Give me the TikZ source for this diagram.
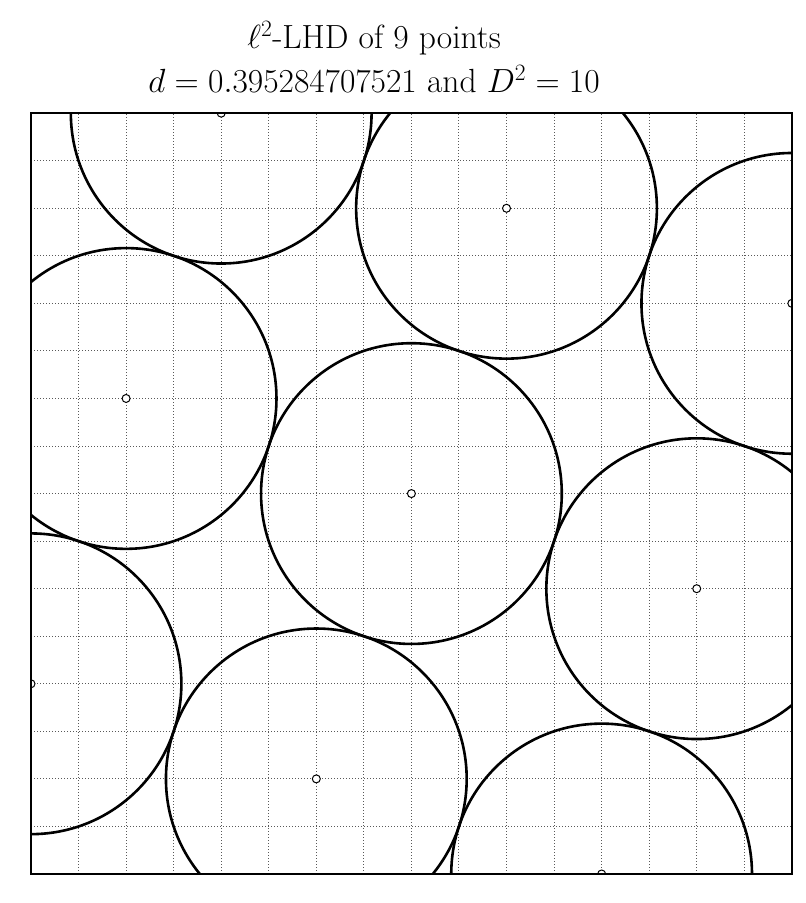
\RequirePackage{fix-cm}
\documentclass[tikz,border=0pt]{standalone}
\usepackage{tikz}
\tikzset{
  lhdgrid/.style={line width=1pt, draw=black!65, dash pattern=on 1.2pt off 1.8pt},
  lhdframe/.style={line width=2.6pt, draw=black},
  lhdcircle/.style={line width=2.6pt, draw=black},
  lhdpoint/.style={fill=white, draw=black, line width=1pt},
  lhdtitle/.style={font=\fontsize{33.5}{40}\selectfont, inner sep=0pt, anchor=base},
}

\begin{document}
\begin{tikzpicture}[x=95.1pt, y=95.1pt]
\useasboundingbox (-0.326,-0.305) rectangle (8.139,9.190);
% the nine design points (level, level)
\foreach \i/\j in {0/2,1/5,2/8,3/1,4/4,5/7,6/0,7/3,8/6}
  \coordinate (p\i) at (\i,\j);
\begin{scope}
\clip (0,0) rectangle (8,8);
\draw[lhdgrid] (0,0) grid[step=0.5] (8,8);
\foreach \i in {0,...,8}
  \draw[lhdcircle] (p\i) circle (1.5811);
\foreach \i in {0,...,8}
  \draw[lhdpoint] (p\i) circle (0.042);
\end{scope}
\draw[lhdframe] (0,0) rectangle (8,8);
\node[lhdtitle] (title) at (3.607,8.675) {$\ell^2$-LHD of 9 points};
\node[lhdtitle] (subtitle) at (3.607,8.215) {$d=0.395284707521$ and $D^2=10$};
\end{tikzpicture}
\end{document}
